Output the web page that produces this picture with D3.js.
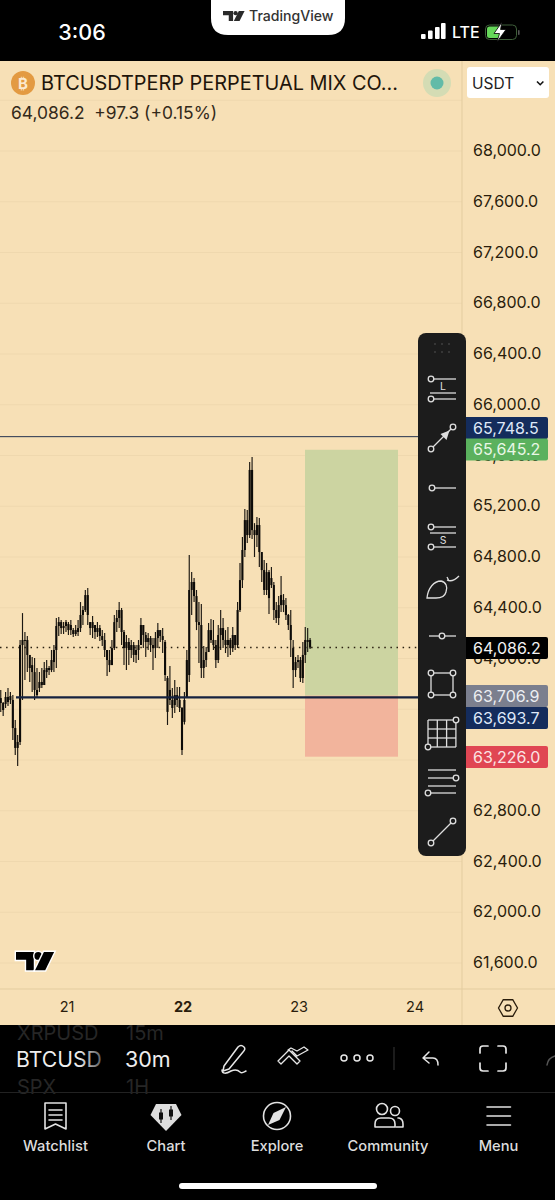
<!DOCTYPE html>
<html>
<head>
<meta charset="utf-8">
<script src="https://cdn.jsdelivr.net/npm/d3@7"></script>
<style>
html,body{margin:0;padding:0;background:#000;}
svg{display:block;font-family:Inter,"Noto Sans",sans-serif;}
</style>
</head>
<body>
<svg id="app" width="555" height="1200"></svg>
<script>
// 30-minute BTCUSDT perpetual candles
const opens=[63712,63688,63649,63642,63697,63673,63673,63452,63295,63342,64106,64146,64146,64028,63948,63893,63752,63767,63815,63791,63893,63925,63909,63972,64067,64256,64287,64240,64256,64272,64224,64224,64193,64209,64240,64343,64382,64500,64287,64240,64264,64209,64240,64177,64146,64067,63988,63948,64082,64287,64319,64382,64209,64082,64130,64067,64106,64028,64067,64106,64264,64185,64130,64161,64106,64082,64161,64224,64177,64130,63846,63752,63673,63633,63712,63673,63610,63500,63689,63870,64540,64603,64492,64287,64264,63925,63988,64051,64224,64146,64106,63988,64185,64240,64146,64106,64146,64082,64185,64106,64382,64618,64855,65091,64973,65486,65012,64973,65052,64839,64697,64540,64681,64579,64579,64382,64319,64421,64461,64421,64343,64264,64082,63909,63972,63988,63846,64028,64146,64146];
const highs=[63767,63752,63657,63736,63767,63736,63712,63515,63397,64146,64358,64209,64177,64028,64012,64004,63925,63893,63925,63972,63988,63941,64067,64106,64319,64327,64303,64287,64303,64287,64303,64240,64264,64303,64445,64414,64540,64555,64287,64335,64264,64287,64264,64224,64201,64067,64067,64146,64343,64382,64445,64398,64224,64185,64161,64146,64130,64106,64146,64319,64264,64209,64201,64177,64161,64209,64280,64224,64240,64146,63862,63941,63767,63830,63775,63775,63618,63736,64067,64815,64681,64634,64540,64445,64429,64098,64091,64280,64311,64303,64146,64264,64382,64319,64224,64248,64161,64248,64185,64445,64752,64957,65178,65170,65548,65588,65067,65115,65107,64839,64776,64752,64697,64721,64603,64445,64492,64650,64508,64476,64351,64382,64146,64012,64028,64012,64130,64248,64240,64161];
const lows=[63610,63579,63547,63610,63626,63642,63358,63240,63153,63318,63673,63830,63893,63815,63736,63673,63697,63736,63767,63791,63846,63870,63893,63893,63925,64177,64193,64193,64209,64185,64185,64169,64177,64177,64209,64264,64366,64264,64185,64161,64154,64169,64138,64098,64012,63862,63893,63948,64067,64209,64240,64106,63948,63909,63948,64004,63972,63964,63988,64106,64082,64012,64067,64051,63909,64004,64082,64130,64043,63822,63476,63633,63531,63570,63618,63579,63240,63480,63689,63815,64343,64445,64224,63964,63846,63846,63933,64051,64122,64067,63925,63964,64067,64082,64043,64012,64028,64051,64067,64082,64366,64555,64800,64910,64949,64942,64800,64879,64721,64603,64500,64500,64351,64555,64303,64280,64264,64366,64366,64303,64224,64012,63767,63854,63925,63815,63807,63964,64051,64075];
const closes=[63673,63649,63594,63697,63657,63704,63452,63295,63342,64106,64146,64146,64028,63925,63893,63752,63712,63815,63791,63909,63925,63909,63988,64067,64256,64287,64240,64256,64287,64224,64264,64193,64224,64240,64343,64382,64500,64343,64240,64287,64209,64240,64177,64146,64067,63988,63948,64082,64287,64319,64382,64209,64082,64130,64067,64106,64028,64067,64106,64264,64185,64130,64161,64106,64082,64161,64224,64177,64146,63870,63579,63673,63610,63712,63673,63610,63279,63673,63988,64540,64603,64492,64287,64264,63925,63988,64051,64224,64146,64106,63988,64185,64240,64146,64106,64146,64082,64185,64106,64382,64618,64855,65091,64973,65486,65012,64973,65052,64839,64697,64540,64681,64476,64634,64382,64319,64421,64500,64421,64343,64264,64146,63909,63972,63988,63846,64028,64146,64130,64086.2];

// price scale and time axis
const priceTicks=[68000,67600,67200,66800,66400,66000,65600,65200,64800,64400,64000,63600,63200,62800,62400,62000,61600];
const dayTicks=[{bar:28,label:"21"},{bar:76,label:"22"},{bar:124,label:"23"},{bar:172,label:"24"}];
const lastPrice=64086.2, upperLine=65748.5, lowerLine=63693.7, entryPrice=63706.9, targetPrice=65645.2, stopPrice=63226.0;
const priceTags=[
  {value:upperLine,fill:"#142c5c",text:"#dfe8f8",cy:428},
  {value:targetPrice,fill:"#5bb15e",text:"#e9f7e6",cy:449.5},
  {value:lastPrice,fill:"#000000",text:"#f2f2f2",cy:648},
  {value:entryPrice,fill:"#7b7f8e",text:"#eceef2",cy:696},
  {value:lowerLine,fill:"#142c5c",text:"#dfe8f8",cy:718},
  {value:stopPrice,fill:"#e04653",text:"#fbe3e3",cy:757}
];
const bottomTabs=["Watchlist","Chart","Explore","Community","Menu"];

const BG="#f7e0b6", GRID="#efd8ae", AXISLINE="#e3cc9f", INK="#2a1d0c";
const svg=d3.select("#app");
const fmt=d3.format(",.1f");
const y=d3.scaleLinear().domain([61600,68000]).range([963,151]);
const x=d3.scaleLinear().domain([76,124]).range([182.6,298.6]);
// bars sit a hair left of the day label centres
const xBar=x.copy().range([182,298]);

svg.append("rect").attr("width",555).attr("height",1200).attr("fill","#000");

// pickers scrolled behind the chart panel
const faded=[["XRPUSD",17,1033],["15m",126,1033],["SPX",17,1087],["1H",126,1087]];
svg.selectAll("text.faded").data(faded).join("text").attr("class","faded")
  .attr("x",d=>d[1]).attr("y",d=>d[2]).attr("dy","0.36em").attr("font-size",20).attr("fill","#262626").text(d=>d[0]);

svg.append("rect").attr("y",61).attr("width",555).attr("height",964).attr("fill",BG);

// horizontal grid
const chart=svg.append("g");
chart.selectAll("line.grid").data(priceTicks.concat([68400])).join("line")
  .attr("class","grid").attr("x1",0).attr("x2",462)
  .attr("y1",d=>y(d)).attr("y2",d=>y(d)).attr("stroke",GRID).attr("stroke-width",1);

// logo mark, reused at two sizes
function logo(g,sx,sy,fill){
  const t=g.append("g").attr("transform",`scale(${sx},${sy})`);
  t.append("path").attr("fill",fill).attr("d","M0 0H14V14H8V6H0Z");
  t.append("circle").attr("fill",fill).attr("cx",17.5).attr("cy",3).attr("r",3);
  t.append("path").attr("fill",fill).attr("d","M22 0H30L23 14H15Z");
  return t;
}

// long position zones
chart.append("rect").attr("x",305).attr("width",93)
  .attr("y",y(targetPrice)).attr("height",y(entryPrice)-y(targetPrice)).attr("fill","#ccd4a1");
chart.append("rect").attr("x",305).attr("width",93)
  .attr("y",y(entryPrice)).attr("height",y(stopPrice)-y(entryPrice)).attr("fill","#f2b49c");

// last price dotted line
chart.append("line").attr("x1",0).attr("x2",466).attr("y1",y(lastPrice)).attr("y2",y(lastPrice))
  .attr("stroke","#2a2010").attr("stroke-width",1.5).attr("stroke-dasharray","1.5 4.6");

// candles
const bars=opens.map((o,i)=>({i,o,h:highs[i],l:lows[i],c:closes[i]}));
const candle=chart.selectAll("g.candle").data(bars).join("g").attr("class","candle");
candle.append("line").attr("x1",d=>xBar(d.i)).attr("x2",d=>xBar(d.i))
  .attr("y1",d=>y(d.h)).attr("y2",d=>y(d.l)).attr("stroke","#1c1812").attr("stroke-width",1.15);
candle.append("rect").attr("x",d=>xBar(d.i)-1.05).attr("width",2.1)
  .attr("y",d=>Math.min(y(d.o),y(d.c))).attr("height",d=>Math.max(1,Math.abs(y(d.o)-y(d.c))))
  .attr("fill","#0d0b08");

// drawn horizontal levels
chart.append("line").attr("x1",0).attr("x2",418).attr("y1",y(upperLine)).attr("y2",y(upperLine))
  .attr("stroke","#24324e").attr("stroke-width",1);
chart.append("line").attr("x1",16).attr("x2",418).attr("y1",y(lowerLine)).attr("y2",y(lowerLine))
  .attr("stroke","#16223f").attr("stroke-width",2.2);

// chart watermark
const wm=svg.append("g").attr("transform","translate(16,952)");
const wmShape=logo(wm,1.27,1.3,"#000");
wmShape.selectAll("*").attr("stroke","#fff").attr("stroke-width",2.2).attr("paint-order","stroke");

// axes
svg.append("line").attr("x1",462).attr("x2",462).attr("y1",61).attr("y2",1025).attr("stroke",AXISLINE);
svg.append("line").attr("x1",0).attr("x2",555).attr("y1",989).attr("y2",989).attr("stroke",AXISLINE);

const priceAxis=d3.axisRight(y).tickValues(priceTicks).tickFormat(fmt).tickSize(0).tickPadding(0);
const pa=svg.append("g").attr("transform","translate(473,-1)").call(priceAxis);
pa.select(".domain").remove();
pa.selectAll("text").attr("font-size",16).attr("fill",INK).attr("font-family","Inter").attr("dy","0.35em");

const timeAxis=d3.axisBottom(x).tickValues(dayTicks.map(d=>d.bar))
  .tickFormat(b=>dayTicks.find(d=>d.bar===b).label).tickSize(0).tickPadding(0);
const ta=svg.append("g").attr("transform","translate(0,1002)").call(timeAxis);
ta.select(".domain").remove();
ta.selectAll("text").attr("font-size",14.5).attr("fill",INK).attr("font-family","Inter").attr("dy","0.7em")
  .attr("font-weight",b=>b===76?700:400);

// axis settings button
svg.append("path").attr("d",d3.line()(d3.range(6).map(k=>{
    const a=Math.PI/3*k; return [508+9.5*Math.cos(a),1008+9.5*Math.sin(a)];
  }))+"Z").attr("fill","none").attr("stroke",INK).attr("stroke-width",1.3);
svg.append("circle").attr("cx",508).attr("cy",1008).attr("r",3).attr("fill","none").attr("stroke",INK).attr("stroke-width",1.3);

// price tags on the axis
const tag=svg.selectAll("g.tag").data(priceTags).join("g").attr("class","tag");
tag.append("path").attr("d",d=>{
  const t=d.cy-11,b=d.cy+11,r=2;
  return `M466 ${t}H${548-r}Q548 ${t} 548 ${t+r}V${b-r}Q548 ${b} ${548-r} ${b}H466Z`;
}).attr("fill",d=>d.fill);
tag.append("text").attr("x",473).attr("y",d=>d.cy).attr("dy","0.36em").attr("font-size",16)
  .attr("fill",d=>d.text).text(d=>fmt(d.value));

// symbol header
svg.append("circle").attr("cx",23).attr("cy",83).attr("r",12).attr("fill","#e39a42");
svg.append("text").attr("x",23).attr("y",88.5).attr("text-anchor","middle").attr("font-size",15).attr("font-weight",700).attr("fill","#fbe9cf").text("₿");
svg.append("text").attr("x",41).attr("y",83).attr("dy","0.36em").attr("font-size",19.9).attr("fill","#1f150a").text("BTCUSDTPERP PERPETUAL MIX CO...");
svg.append("text").attr("x",11).attr("y",113).attr("dy","0.36em").attr("font-size",17.4).attr("fill","#33291a")
  .attr("xml:space","preserve").text("64,086.2  +97.3 (+0.15%)");
svg.append("circle").attr("cx",437).attr("cy",83).attr("r",14).attr("fill","#d4dcb4");
svg.append("circle").attr("cx",437).attr("cy",83).attr("r",6.5).attr("fill","#62bba8");
svg.append("rect").attr("x",467).attr("y",67).attr("width",82).attr("height",31).attr("rx",3).attr("fill","#fff");
svg.append("text").attr("x",472).attr("y",83).attr("dy","0.36em").attr("font-size",15.5).attr("fill","#222").text("USDT");
svg.append("path").attr("d","M537 81.5l3.2 3.2 3.2-3.2").attr("fill","none").attr("stroke","#111").attr("stroke-width",1.6);

// status bar
svg.append("text").attr("x",82).attr("y",32).attr("dy","0.36em").attr("text-anchor","middle")
  .attr("font-size",21.5).attr("font-weight",500).attr("fill","#fff").text("3:06");
svg.append("path").attr("d","M211 -1H345V18Q345 35 328 35H228Q211 35 211 18Z").attr("fill","#fff");
logo(svg.append("g").attr("transform","translate(223,11)"),0.72,0.72,"#2a2a2a");
svg.append("text").attr("x",249).attr("y",16).attr("dy","0.36em").attr("font-size",14.1).attr("font-weight",500).attr("fill","#333").text("TradingView");
svg.selectAll("rect.signal").data([[421,5],[428,8.5],[435,12],[441,16]]).join("rect").attr("class","signal")
  .attr("x",d=>d[0]).attr("width",4.6).attr("y",d=>39-d[1]).attr("height",d=>d[1]).attr("rx",1).attr("fill","#fff");
svg.append("text").attr("x",452).attr("y",32).attr("dy","0.36em").attr("font-size",16).attr("font-weight",500).attr("fill","#fff").text("LTE");
svg.append("rect").attr("x",485.5).attr("y",25).attr("width",31).attr("height",14.5).attr("rx",4).attr("fill","none").attr("stroke","#3f5f3a").attr("stroke-width",1);
svg.append("rect").attr("x",487).attr("y",26.5).attr("width",14).attr("height",11.5).attr("rx",2.5).attr("fill","#66d85a");
svg.append("path").attr("d","M502 22L494 33.5H499.5L497 42L506 29.5H500.5Z").attr("fill","#fff").attr("stroke","#000").attr("stroke-width",0.8);
svg.append("rect").attr("x",518).attr("y",30).attr("width",1.6).attr("height",5).attr("rx",0.8).attr("fill","#555");

// drawing toolbar
const tb=svg.append("g");
tb.append("rect").attr("x",418).attr("y",333).attr("width",48).attr("height",523).attr("rx",8).attr("fill","#1c1c1c");
const ICON="#dedede";
const seg=(a,b,c,d,w=1.3)=>tb.append("line").attr("x1",a).attr("y1",b).attr("x2",c).attr("y2",d).attr("stroke",ICON).attr("stroke-width",w);
const knob=(a,b)=>tb.append("circle").attr("cx",a).attr("cy",b).attr("r",2.8).attr("fill","#1c1c1c").attr("stroke",ICON).attr("stroke-width",1.3);
const tag2=(a,b,s)=>tb.append("text").attr("x",a).attr("y",b).attr("text-anchor","middle").attr("font-size",10.5).attr("fill",ICON).text(s);
d3.cross([435,442,449],[344,352]).forEach(([a,b])=>tb.append("circle").attr("cx",a).attr("cy",b).attr("r",0.8).attr("fill","#5a5a5a"));
seg(431,379,456,379);seg(430,393,456,393);seg(431,399,456,399);knob(431,379);knob(431,399);tag2(443,390,"L");
seg(431,449,453,427);knob(431,449);knob(453,427);
tb.append("path").attr("d","M449.5 430.5L440.5 434L446.5 440Z").attr("fill",ICON);
seg(432,488,456,488);knob(432,488);
seg(431,527,456,527);seg(430,533,456,533);seg(431,547,456,547);knob(431,527);knob(431,547);tag2(443,544,"S");
tb.append("path").attr("d","M427 598C428 588 434 581 441 581C446 582 448 587 446 592C445 596 441 598 436 598Z M447 580C451 582 456 579 459 576 M447 577L449 581")
  .attr("fill","none").attr("stroke",ICON).attr("stroke-width",1.3);
seg(429,636,456,636);knob(442,636);
tb.append("rect").attr("x",431).attr("y",673).attr("width",22).attr("height",22).attr("fill","none").attr("stroke",ICON).attr("stroke-width",1.3);
[[431,673],[453,673],[431,695],[453,695]].forEach(p=>knob(p[0],p[1]));
d3.range(4).forEach(k=>{seg(428,720+k*9,456,720+k*9);seg(428+k*9.3,720,428+k*9.3,747);});
knob(456,720);knob(428,747);
seg(428,770,456,770);seg(428,778,456,778);seg(428,786,456,786);seg(428,793,456,793);knob(456,778);knob(428,793);
seg(431,843,453,821);knob(431,843);knob(453,821);

// symbol and interval picker row
const defs=svg.append("defs");
const fade=defs.append("linearGradient").attr("id","symFade").attr("gradientUnits","userSpaceOnUse").attr("x1",16).attr("x2",103).attr("y1",0).attr("y2",0);
fade.append("stop").attr("offset","0.72").attr("stop-color","#eee");
fade.append("stop").attr("offset","1").attr("stop-color","#555");
svg.append("text").attr("x",16).attr("y",1059).attr("dy","0.36em").attr("font-size",21.2).attr("fill","url(#symFade)").text("BTCUSD");
svg.append("text").attr("x",125).attr("y",1059).attr("dy","0.36em").attr("font-size",21.5).attr("fill","#eee").text("30m");
svg.append("line").attr("x1",0).attr("x2",555).attr("y1",1092.5).attr("y2",1092.5).attr("stroke","#222");

const bar=svg.append("g").attr("fill","none").attr("stroke","#e6e6e6").attr("stroke-width",1.5).attr("stroke-linecap","round").attr("stroke-linejoin","round");
bar.append("path").attr("d","M224 1066L238 1047Q241 1044 244 1047Q246 1049 243 1052L229 1069L223 1071Z M222 1070C222 1074 226 1074 231 1071C236 1069 238 1070 240 1072C242 1074 244 1072 246 1071");
bar.append("path").attr("d","M281 1064L289 1056L297 1064L300 1061L289 1050L278 1061Z M292 1051L297 1056L308 1050L304 1047L297 1051L291 1048L288 1050").attr("stroke-width",1.3);
[344,357,370].forEach(cx=>bar.append("circle").attr("cx",cx).attr("cy",1058).attr("r",3));
svg.append("line").attr("x1",394).attr("x2",394).attr("y1",1047).attr("y2",1070).attr("stroke","#2b2b2b").attr("stroke-width",1.3);
bar.append("path").attr("d","M429 1052L423 1058L429 1063 M423 1058H433Q438 1058 438 1065");
bar.append("path").attr("d","M480 1053V1049Q480 1046 483 1046H488 M498 1046H503Q506 1046 506 1049V1053 M506 1063V1068Q506 1071 503 1071H498 M488 1071H483Q480 1071 480 1068V1063").attr("stroke-width",1.7);
bar.append("path").attr("d","M547 1065Q548 1058 555 1056").attr("stroke","#555");

// bottom navigation
const tabX=[55.5,166,277,388,498.5];
svg.selectAll("text.tab").data(bottomTabs).join("text").attr("class","tab")
  .attr("x",(d,i)=>tabX[i]).attr("y",1146).attr("dy","0.36em").attr("text-anchor","middle")
  .attr("font-size",14.7).attr("font-weight",500).attr("fill","#ddd").text(d=>d);
const nav=svg.append("g").attr("fill","none").attr("stroke","#e2e2e2").attr("stroke-width",1.6).attr("stroke-linejoin","round").attr("stroke-linecap","round");
nav.append("path").attr("d","M45 1103H66V1129L55.5 1124L45 1129Z M49 1110H62 M49 1115H62 M49 1120H62");
svg.append("path").attr("d","M156 1104H176L181.500 1115L166 1131L150.500 1115Z").attr("fill","#dedede");
[[161,1116],[171,1113]].forEach(p=>{
  svg.append("line").attr("x1",p[0]).attr("x2",p[0]).attr("y1",p[1]-7).attr("y2",p[1]+7).attr("stroke","#111").attr("stroke-width",1.2);
  svg.append("rect").attr("x",p[0]-2).attr("y",p[1]-3.5).attr("width",4).attr("height",7).attr("fill","#111");
});
nav.append("circle").attr("cx",277).attr("cy",1116).attr("r",13.5);
svg.append("path").attr("d","M286 1107L279.500 1120L268 1125L273.500 1113Z").attr("fill","#e2e2e2");
nav.append("path").attr("d","M375 1127V1124Q375 1118 381 1118H389Q395 1118 395 1124V1127Z");
nav.append("circle").attr("cx",382).attr("cy",1109).attr("r",5.5);
nav.append("circle").attr("cx",395).attr("cy",1111).attr("r",4.5);
nav.append("path").attr("d","M398 1118H399Q403 1119 403 1124V1127H396");
nav.append("path").attr("d","M487 1107H510.500 M487 1116H510.500 M487 1125H510.500");
svg.append("rect").attr("x",179).attr("y",1183).attr("width",198).attr("height",6).attr("rx",3).attr("fill","#fff");
</script>
</body>
</html>
